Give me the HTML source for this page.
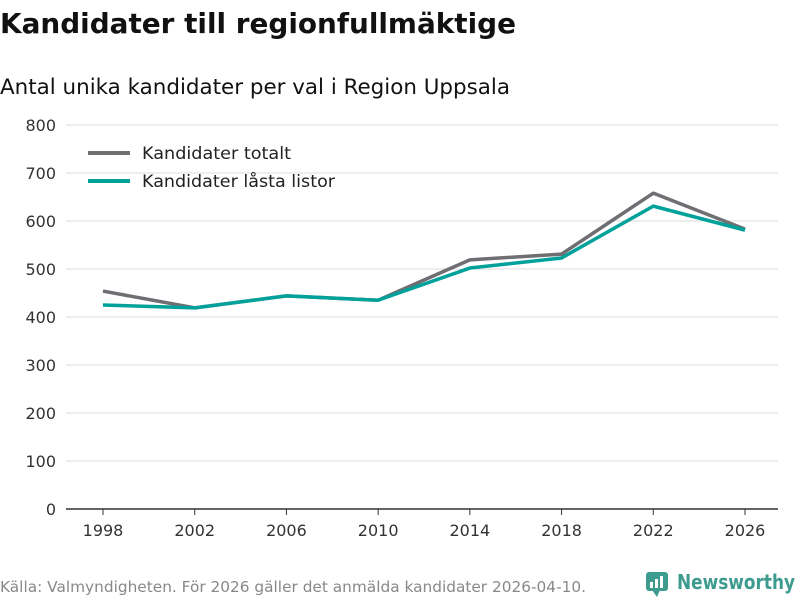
<!DOCTYPE html>
<html><head><meta charset="utf-8"><style>
body{margin:0;width:800px;height:600px;background:#fff;font-family:"DejaVu Sans","Liberation Sans",sans-serif;overflow:hidden}
</style></head><body>
<svg width="800" height="600">
<text x="0" y="33" font-size="28" font-weight="bold" fill="#111" textLength="516" lengthAdjust="spacingAndGlyphs">Kandidater till regionfullmäktige</text>
<text x="0" y="94" font-size="21" fill="#111" textLength="510" lengthAdjust="spacingAndGlyphs">Antal unika kandidater per val i Region Uppsala</text>
<g id="grid"></g><g id="axes"></g><g id="lines"></g>
<g>
<line x1="88" y1="153" x2="130" y2="153" stroke="#6e6e73" stroke-width="4"/>
<text x="142" y="159" font-size="17" fill="#222" textLength="149" lengthAdjust="spacingAndGlyphs">Kandidater totalt</text>
<line x1="88" y1="181" x2="130" y2="181" stroke="#00a19a" stroke-width="4"/>
<text x="142" y="187" font-size="17" fill="#222" textLength="193" lengthAdjust="spacingAndGlyphs">Kandidater låsta listor</text>
</g>
<text x="0" y="592" font-size="15" fill="#888" textLength="586" lengthAdjust="spacingAndGlyphs">Källa: Valmyndigheten. För 2026 gäller det anmälda kandidater 2026-04-10.</text>
<g>
<rect x="646" y="572" width="22" height="19" rx="3" fill="#3d9b8f"/>
<path d="M652 590 L657 597 L660 590Z" fill="#3d9b8f"/>
<rect x="650" y="582" width="3" height="6" fill="#fff"/><rect x="655" y="579" width="3" height="9" fill="#fff"/><rect x="660" y="576" width="3" height="12" fill="#fff"/>
<text x="677" y="589" font-size="20" font-weight="bold" fill="#3d9b8f" textLength="118" lengthAdjust="spacingAndGlyphs">Newsworthy</text>
</g>
</svg>
<script>
const years=[1998,2002,2006,2010,2014,2018,2022,2026];
const totalt=[454,419,444,435,519,531,658,583];
const lasta=[425,419,444,435,502,523,631,581];
const yTicks=[0,100,200,300,400,500,600,700,800];
const NS="http://www.w3.org/2000/svg";
const x=y=>103+(y-1998)/28*642;
const yv=v=>509-v*0.48;
function mk(t,a,p){const e=document.createElementNS(NS,t);for(const k in a)e.setAttribute(k,a[k]);p.appendChild(e);return e;}
const grid=document.getElementById('grid'),axes=document.getElementById('axes'),lines=document.getElementById('lines');
yTicks.forEach(v=>{
const l=mk('line',{x1:66,x2:778,y1:yv(v),y2:yv(v),stroke:v===0?'#333':'#ddd','stroke-width':v===0?1.5:1},grid);


const t=mk('text',{x:56,y:yv(v)+6,'font-size':16,fill:'#333','text-anchor':'end'},axes);
t.textContent=v;


});
years.forEach(yr=>{
mk('line',{x1:x(yr),x2:x(yr),y1:509,y2:515,stroke:'#333'},axes);
const t=mk('text',{x:x(yr),y:536,'font-size':16,fill:'#333','text-anchor':'middle'},axes);
t.textContent=yr;


});
function line(vals,col,name){
const p=mk('polyline',{points:vals.map((v,i)=>x(years[i])+','+yv(v)).join(' '),fill:'none',stroke:col,'stroke-width':3.5,'stroke-linejoin':'round'},lines);


}
line(totalt,'#6e6e73','line-totalt');
line(lasta,'#00a19a','line-lasta-listor');
</script>
</body></html>
